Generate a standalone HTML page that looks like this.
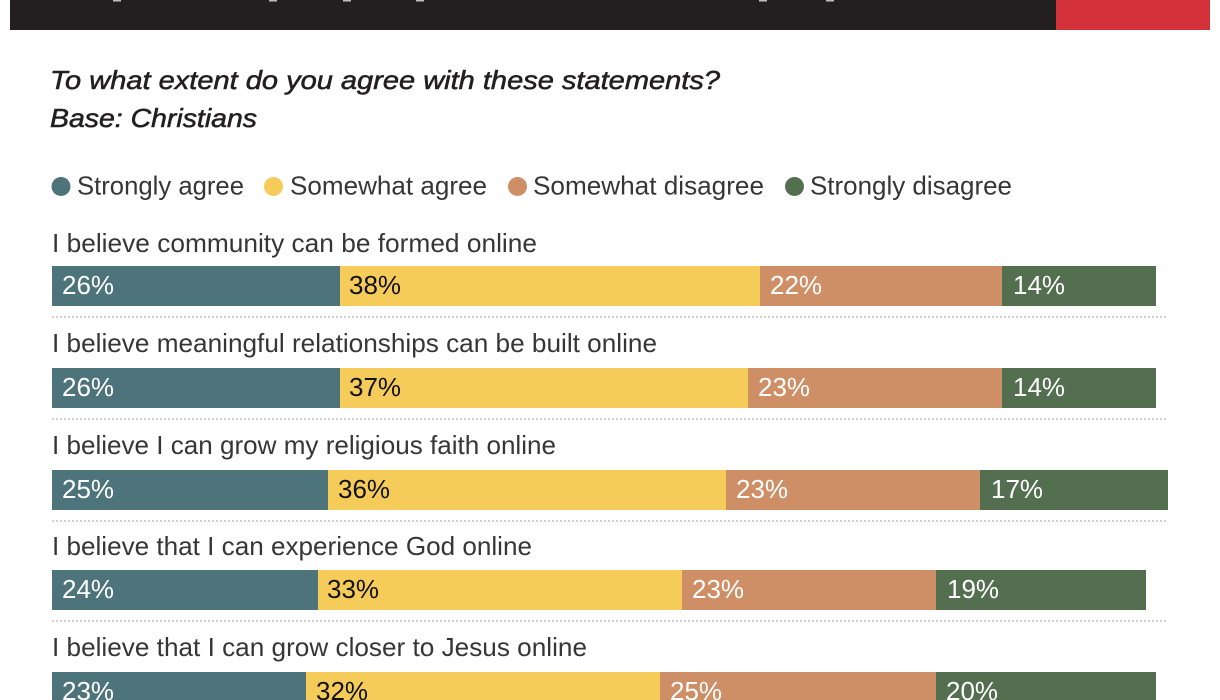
<!DOCTYPE html>
<html>
<head>
<meta charset="utf-8">
<style>
  html, body { margin: 0; padding: 0; background: #ffffff; }
  body { width: 1220px; height: 700px; overflow: hidden; }
  svg { display: block; }
  .lbl { font-family: "Liberation Sans", "Helvetica Neue", Arial, sans-serif; font-size: 26px; fill: #363636; }
  .q { font-family: "Liberation Sans", "Helvetica Neue", Arial, sans-serif; font-size: 26px; font-style: italic; fill: #231f20; stroke: #231f20; stroke-width: 0.55px; }
  .pw { font-family: "Liberation Sans", "Helvetica Neue", Arial, sans-serif; font-size: 26px; fill: #ffffff; }
  .pb { font-family: "Liberation Sans", "Helvetica Neue", Arial, sans-serif; font-size: 26px; fill: #111111; }
  .dot { stroke: #d2d2d2; stroke-width: 2; stroke-dasharray: 2 2; }
</style>
</head>
<body>
<svg width="1220" height="700" viewBox="0 0 1220 700" xmlns="http://www.w3.org/2000/svg">
  <!-- header -->
  <rect x="10" y="0" width="1046" height="30" fill="#231f20"/>
  <rect x="1056" y="0" width="154" height="30" fill="#d3323a"/>
  <g fill="#bdbdbd">
    <rect x="113" y="0" width="8" height="1.5"/>
    <rect x="269" y="0" width="8" height="1.5"/>
    <rect x="343" y="0" width="8" height="1.5"/>
    <rect x="416" y="0" width="8" height="1.5"/>
    <rect x="759" y="0" width="8" height="1.5"/>
    <rect x="826" y="0" width="8" height="1.5"/>
  </g>

  <!-- question -->
  <text class="q" x="50" y="89" textLength="670" lengthAdjust="spacingAndGlyphs">To what extent do you agree with these statements?</text>
  <text class="q" x="50" y="127" textLength="207" lengthAdjust="spacingAndGlyphs">Base: Christians</text>

  <!-- legend -->
  <circle cx="61" cy="186.5" r="9.5" fill="#4d737b"/>
  <text class="lbl" x="77" y="194.5" textLength="167" lengthAdjust="spacingAndGlyphs">Strongly agree</text>
  <circle cx="273.5" cy="186.5" r="9.5" fill="#f5cb59"/>
  <text class="lbl" x="290" y="194.5" textLength="197" lengthAdjust="spacingAndGlyphs">Somewhat agree</text>
  <circle cx="517.5" cy="186.5" r="9.5" fill="#cf8f66"/>
  <text class="lbl" x="533" y="194.5" textLength="231" lengthAdjust="spacingAndGlyphs">Somewhat disagree</text>
  <circle cx="794.5" cy="186.5" r="9.5" fill="#536f4f"/>
  <text class="lbl" x="810" y="194.5" textLength="202" lengthAdjust="spacingAndGlyphs">Strongly disagree</text>

  <!-- Row 1 -->
  <text class="lbl" x="52" y="252" textLength="485" lengthAdjust="spacingAndGlyphs">I believe community can be formed online</text>
  <rect x="52" y="266" width="288" height="40" fill="#4d737b"/>
  <rect x="340" y="266" width="420" height="40" fill="#f5cb59"/>
  <rect x="760" y="266" width="242" height="40" fill="#cf8f66"/>
  <rect x="1002" y="266" width="154" height="40" fill="#536f4f"/>
  <text class="pw" x="62" y="294">26%</text>
  <text class="pb" x="349" y="294">38%</text>
  <text class="pw" x="770" y="294">22%</text>
  <text class="pw" x="1013" y="294">14%</text>
  <line class="dot" x1="52" y1="317" x2="1168" y2="317"/>

  <!-- Row 2 -->
  <text class="lbl" x="52" y="352" textLength="605" lengthAdjust="spacingAndGlyphs">I believe meaningful relationships can be built online</text>
  <rect x="52" y="368" width="288" height="40" fill="#4d737b"/>
  <rect x="340" y="368" width="408" height="40" fill="#f5cb59"/>
  <rect x="748" y="368" width="254" height="40" fill="#cf8f66"/>
  <rect x="1002" y="368" width="154" height="40" fill="#536f4f"/>
  <text class="pw" x="62" y="396">26%</text>
  <text class="pb" x="349" y="396">37%</text>
  <text class="pw" x="758" y="396">23%</text>
  <text class="pw" x="1013" y="396">14%</text>
  <line class="dot" x1="52" y1="419" x2="1168" y2="419"/>

  <!-- Row 3 -->
  <text class="lbl" x="52" y="454" textLength="504" lengthAdjust="spacingAndGlyphs">I believe I can grow my religious faith online</text>
  <rect x="52" y="470" width="276" height="40" fill="#4d737b"/>
  <rect x="328" y="470" width="398" height="40" fill="#f5cb59"/>
  <rect x="726" y="470" width="254" height="40" fill="#cf8f66"/>
  <rect x="980" y="470" width="188" height="40" fill="#536f4f"/>
  <text class="pw" x="62" y="498">25%</text>
  <text class="pb" x="338" y="498">36%</text>
  <text class="pw" x="736" y="498">23%</text>
  <text class="pw" x="991" y="498">17%</text>
  <line class="dot" x1="52" y1="521" x2="1168" y2="521"/>

  <!-- Row 4 -->
  <text class="lbl" x="52" y="555" textLength="480" lengthAdjust="spacingAndGlyphs">I believe that I can experience God online</text>
  <rect x="52" y="570" width="266" height="40" fill="#4d737b"/>
  <rect x="318" y="570" width="364" height="40" fill="#f5cb59"/>
  <rect x="682" y="570" width="254" height="40" fill="#cf8f66"/>
  <rect x="936" y="570" width="210" height="40" fill="#536f4f"/>
  <text class="pw" x="62" y="598">24%</text>
  <text class="pb" x="327" y="598">33%</text>
  <text class="pw" x="692" y="598">23%</text>
  <text class="pw" x="947" y="598">19%</text>
  <line class="dot" x1="52" y1="621" x2="1168" y2="621"/>

  <!-- Row 5 -->
  <text class="lbl" x="52" y="656" textLength="535" lengthAdjust="spacingAndGlyphs">I believe that I can grow closer to Jesus online</text>
  <rect x="52" y="672" width="254" height="40" fill="#4d737b"/>
  <rect x="306" y="672" width="354" height="40" fill="#f5cb59"/>
  <rect x="660" y="672" width="276" height="40" fill="#cf8f66"/>
  <rect x="936" y="672" width="220" height="40" fill="#536f4f"/>
  <text class="pw" x="62" y="700">23%</text>
  <text class="pb" x="316" y="700">32%</text>
  <text class="pw" x="670" y="700">25%</text>
  <text class="pw" x="946" y="700">20%</text>
</svg>
</body>
</html>
